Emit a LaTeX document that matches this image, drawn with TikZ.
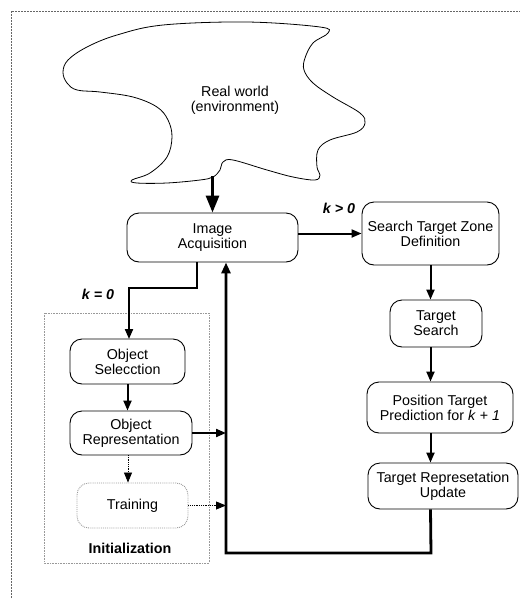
\documentclass[tikz,border=0pt]{standalone}
\usepackage{fontspec}
\setmainfont{Liberation Sans}
\usetikzlibrary{arrows.meta}
\begin{document}
\begin{tikzpicture}[x=1pt,y=-1pt,
  box/.style={draw,rounded corners=12pt,align=center,inner sep=0pt,line width=0.9pt,font=\fontsize{14.3}{15}\selectfont},
  arr/.style={line width=2pt,-{Triangle[length=10pt,width=8pt]}},
  lbl/.style={font=\fontsize{14.3}{15}\selectfont\bfseries\itshape}]
\useasboundingbox (0,0) rectangle (520,598);
% outer border
\draw[gray!80!black,line width=0.6pt,dash pattern=on 2pt off 1pt] (11,598) -- (11,11) -- (520,11);
% cloud
\draw[line width=0.8pt] plot[smooth cycle,tension=0.6] coordinates {
(163,25) (247,22) (320,27) (328,33) (313,43) (305,58) (304,70) (313,83) (333,97) (360,113) (365,123) (357,132) (330,140) (318,150) (317,167) (320,175) (315,180) (293,177) (267,170) (233,160) (223,162) (220,170) (213,177) (200,180) (167,183) (137,183) (132,180) (150,173) (167,157) (172,137) (168,120) (157,107) (133,97) (100,92) (77,90) (67,83) (63,72) (68,60) (87,47) (117,35)};
\node[font=\fontsize{14.3}{15}\selectfont,align=center] (rw) at (235,100) {Real world\\(environment)};
\coordinate (cb) at (212.5,176);
% nodes
\node[box,minimum width=171pt,minimum height=49pt] (ia) at (212.5,237.5) {Image\\Acquisition};
\node[box,minimum width=137pt,minimum height=63pt] (st) at (430.5,233.5) {Search Target Zone\\Definition};
\node[box,minimum width=92pt,minimum height=47pt] (ts) at (436,323.5) {Target\\Search};
\node[box,minimum width=146pt,minimum height=51pt] (pt) at (440,407.5) {Position Target\\Prediction for \textit{k} + \textit{1}};
\node[box,minimum width=150pt,minimum height=46pt] (tu) at (443,486) {Target Represetation\\Update};
\node[box,minimum width=115pt,minimum height=45pt] (os) at (127.5,361.5) {Object\\Selecction};
\node[box,minimum width=122pt,minimum height=44pt] (or) at (131,433) {Object\\Representation};
\node[box,draw=gray!80,densely dotted,minimum width=111pt,minimum height=45pt] (tr) at (132.5,505.5) {Training};
% initialization box
\draw[gray!80,densely dotted,line width=0.6pt] (44,313) rectangle (209,563);
\node[font=\fontsize{14.3}{15}\selectfont\bfseries] (init) at (130,548) {Initialization};
% labels
\node[lbl] (k1) at (339,208) {k > 0};
\node[lbl] (k0) at (98,294) {k = 0};
% coordinates
\coordinate (fb) at (226,553);
\coordinate (j1) at (197,288);
% arrows
\draw[line width=3pt,-{Triangle[length=17pt,width=13pt]}] (cb) -- (ia.north);
\draw[arr] (ia.east |- st.west) -- (st.west);
\draw[arr] (st.south) -- (st.south |- ts.north);
\draw[arr] (st.south |- ts.south) -- (st.south |- pt.north);
\draw[arr] (st.south |- pt.south) -- (st.south |- tu.north);
\draw[line width=2.8pt,-{Triangle[length=11pt,width=9pt]}] (st.south |- tu.south) -- (431,553) -- (fb) -- (fb |- ia.south);
\draw[arr] (j1 |- ia.south) -- (j1) -- (129,288) -- (129,339);
\draw[arr] (os.south) -- (os.south |- or.north);
\draw[arr] (or.east) -- (fb |- or.east);
\draw[line width=0.8pt,densely dotted] (128,455) -- (128,474);
\draw[line width=0.8pt,-{Triangle[length=10pt,width=8pt]}] (128,473.5) -- (tr.north -| 128,0);
\draw[line width=0.8pt,densely dotted] (tr.east) -- (216,505.5);
\draw[line width=0.8pt,-{Triangle[length=10pt,width=8pt]}] (215.5,505.5) -- (fb |- tr.east);
\end{tikzpicture}
\end{document}
